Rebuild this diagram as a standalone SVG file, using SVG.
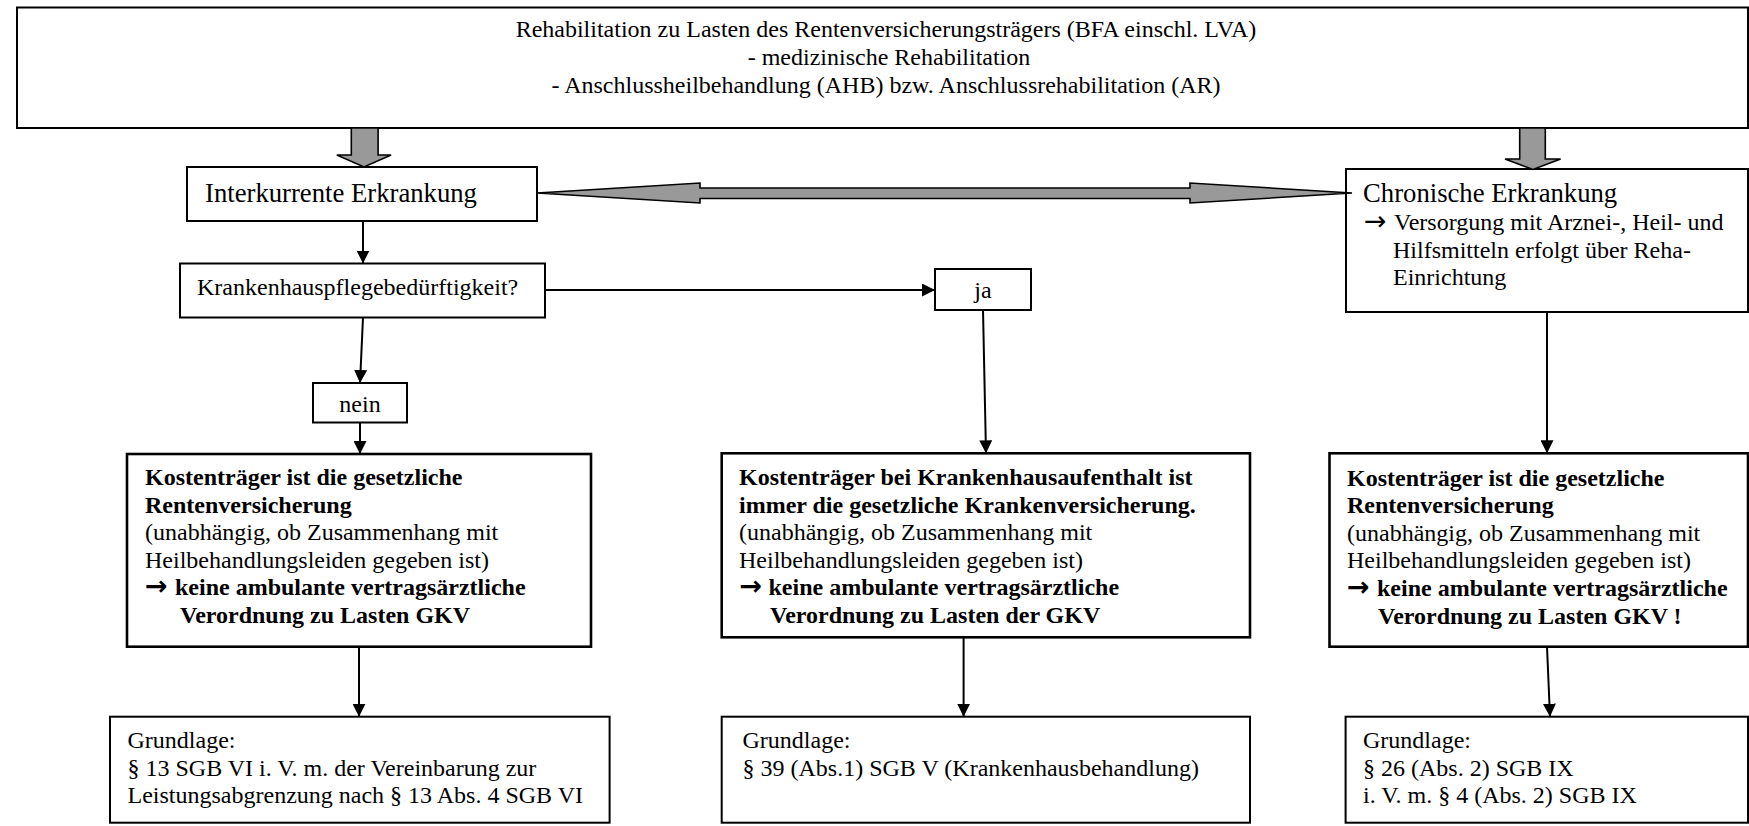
<svg xmlns="http://www.w3.org/2000/svg" width="1749" height="826" viewBox="0 0 1749 826">
<defs>
<style>
.box{fill:#fff;stroke:#000;stroke-width:2}
.boxb{fill:#fff;stroke:#000;stroke-width:2.6}
.t{font-family:"Liberation Serif","Times New Roman",serif;font-size:24px;fill:#000}
.b{font-weight:bold}
.big{font-size:26.7px}
.ar{font-family:"DejaVu Sans","Liberation Sans",sans-serif;font-size:27px}
.conn{stroke:#000;stroke-width:2;fill:none}
.gray{fill:#999;stroke:#000;stroke-width:1.6;stroke-linejoin:miter}
</style>
<marker id="ah" viewBox="0 0 10 10" refX="10" refY="5" markerWidth="13" markerHeight="13" markerUnits="userSpaceOnUse" orient="auto">
<path d="M0,0 L10,5 L0,10 z" fill="#000"/>
</marker>
</defs>
<rect width="1749" height="826" fill="#fff"/>

<g id="top">
<rect class="box" x="17" y="7.5" width="1731" height="120.5"/>
<text class="t" text-anchor="middle" x="886" y="37">Rehabilitation zu Lasten des Rentenversicherungsträgers (BFA einschl. LVA)</text>
<text class="t" text-anchor="middle" x="889" y="65">- medizinische Rehabilitation</text>
<text class="t" text-anchor="middle" x="886" y="93">- Anschlussheilbehandlung (AHB) bzw. Anschlussrehabilitation (AR)</text>
</g>

<g id="interkurrente">
<rect class="box" x="187" y="167" width="350" height="54"/>
<text class="t big" x="205" y="202">Interkurrente Erkrankung</text>
</g>

<g id="chronische">
<rect class="box" x="1346" y="169" width="402" height="143"/>
<text class="t big" x="1363" y="202">Chronische Erkrankung</text>
<text class="t" x="1364" y="230"><tspan class="ar">→</tspan><tspan x="1394">Versorgung mit Arznei-, Heil- und</tspan></text>
<text class="t" x="1393" y="258">Hilfsmitteln erfolgt über Reha-</text>
<text class="t" x="1393" y="285">Einrichtung</text>
</g>

<g id="krankenhaus">
<rect class="box" x="180" y="263.5" width="365" height="54"/>
<text class="t" x="197" y="295">Krankenhauspflegebedürftigkeit?</text>
</g>

<g id="ja">
<rect class="box" x="935" y="269" width="96" height="41"/>
<text class="t" text-anchor="middle" x="983" y="298">ja</text>
</g>

<g id="nein">
<rect class="box" x="313" y="383" width="94" height="39.5"/>
<text class="t" text-anchor="middle" x="360" y="412">nein</text>
</g>

<g id="kosten-links">
<rect class="boxb" x="127" y="454" width="464" height="192.7"/>
<text class="t b" x="145" y="485">Kostenträger ist die gesetzliche</text>
<text class="t b" x="145" y="512.5">Rentenversicherung</text>
<text class="t" x="145" y="540">(unabhängig, ob Zusammenhang mit</text>
<text class="t" x="145" y="567.5">Heilbehandlungsleiden gegeben ist)</text>
<text class="t b" x="145" y="595"><tspan class="ar">→</tspan><tspan x="175">keine ambulante vertragsärztliche</tspan></text>
<text class="t b" x="180" y="622.5">Verordnung zu Lasten GKV</text>
</g>

<g id="kosten-mitte">
<rect class="boxb" x="721.7" y="453.3" width="528.3" height="184"/>
<text class="t b" x="739" y="485">Kostenträger bei Krankenhausaufenthalt ist</text>
<text class="t b" x="739" y="512.5">immer die gesetzliche Krankenversicherung.</text>
<text class="t" x="739" y="540">(unabhängig, ob Zusammenhang mit</text>
<text class="t" x="739" y="567.5">Heilbehandlungsleiden gegeben ist)</text>
<text class="t b" x="739.5" y="595"><tspan class="ar">→</tspan><tspan x="768.5">keine ambulante vertragsärztliche</tspan></text>
<text class="t b" x="770" y="622.5">Verordnung zu Lasten der GKV</text>
</g>

<g id="kosten-rechts">
<rect class="boxb" x="1329.5" y="453.3" width="418.5" height="193.4"/>
<text class="t b" x="1347" y="485.5">Kostenträger ist die gesetzliche</text>
<text class="t b" x="1347" y="513">Rentenversicherung</text>
<text class="t" x="1347" y="540.5">(unabhängig, ob Zusammenhang mit</text>
<text class="t" x="1347" y="568">Heilbehandlungsleiden gegeben ist)</text>
<text class="t b" x="1347" y="596"><tspan class="ar">→</tspan><tspan x="1377">keine ambulante vertragsärztliche</tspan></text>
<text class="t b" x="1378" y="624">Verordnung zu Lasten GKV !</text>
</g>

<g id="grundlage-links">
<rect class="box" x="110" y="716.7" width="499.6" height="106"/>
<text class="t" x="127.5" y="748">Grundlage:</text>
<text class="t" x="127.5" y="776">§ 13 SGB VI i. V. m. der Vereinbarung zur</text>
<text class="t" x="127.5" y="803">Leistungsabgrenzung nach § 13 Abs. 4 SGB VI</text>
</g>

<g id="grundlage-mitte">
<rect class="box" x="721.7" y="716.7" width="528.3" height="106"/>
<text class="t" x="742.5" y="748">Grundlage:</text>
<text class="t" x="742.5" y="776">§ 39 (Abs.1) SGB V (Krankenhausbehandlung)</text>
</g>

<g id="grundlage-rechts">
<rect class="box" x="1345.6" y="716.7" width="402.4" height="106"/>
<text class="t" x="1363" y="748">Grundlage:</text>
<text class="t" x="1363" y="776">§ 26 (Abs. 2) SGB IX</text>
<text class="t" x="1363" y="803">i. V. m. § 4 (Abs. 2) SGB IX</text>
</g>

<g id="connectors">
<polygon class="gray" points="351.3,128 378.1,128 378.1,155 391.1,155 364,167 336.8,155 351.3,155"/>
<polygon class="gray" points="1519.7,128 1545.3,128 1545.3,159 1560.6,159 1533,169.5 1505,159 1519.7,159"/>
<polygon class="gray" points="537,193 700,183 700,188 1190,188 1190,183 1352,193 1190,203 1190,198.5 700,198.5 700,203"/>
<line class="conn" x1="363" y1="221" x2="363" y2="263.5" marker-end="url(#ah)"/>
<line class="conn" x1="363" y1="317.5" x2="360" y2="383" marker-end="url(#ah)"/>
<line class="conn" x1="360" y1="422.5" x2="360" y2="454" marker-end="url(#ah)"/>
<line class="conn" x1="545" y1="290" x2="935" y2="290" marker-end="url(#ah)"/>
<line class="conn" x1="983" y1="310" x2="986" y2="453.3" marker-end="url(#ah)"/>
<line class="conn" x1="1547" y1="312" x2="1547" y2="453.3" marker-end="url(#ah)"/>
<line class="conn" x1="359" y1="646.7" x2="359" y2="716.7" marker-end="url(#ah)"/>
<line class="conn" x1="963.6" y1="637.3" x2="963.6" y2="716.7" marker-end="url(#ah)"/>
<line class="conn" x1="1547" y1="646.7" x2="1550" y2="716.7" marker-end="url(#ah)"/>
</g>
</svg>
